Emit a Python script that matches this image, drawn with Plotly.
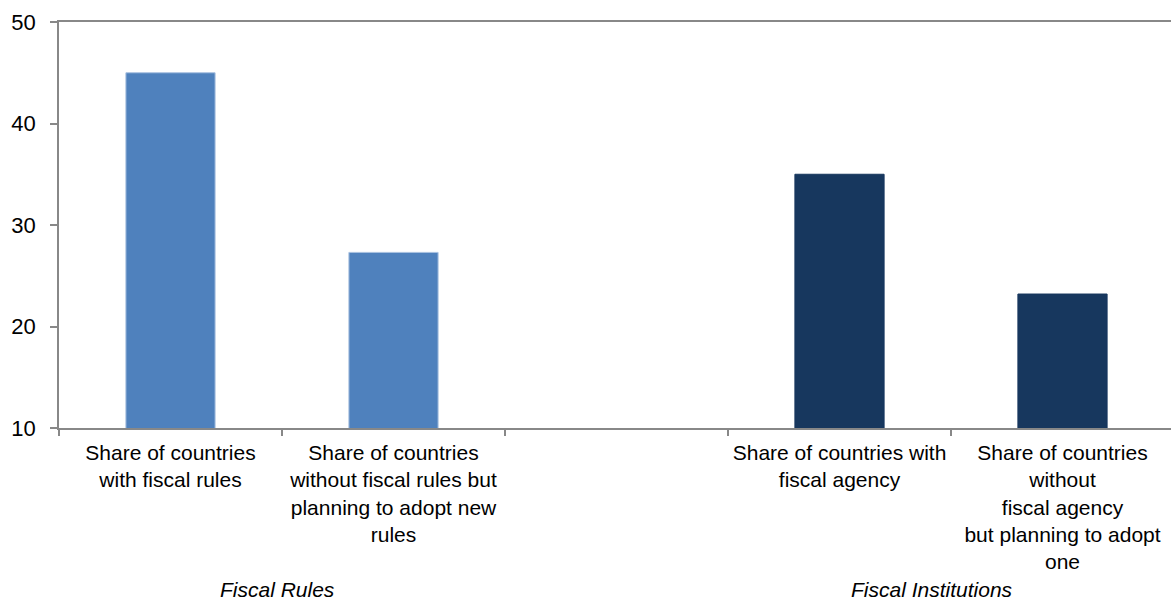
import plotly.graph_objects as go

# Survey shares, by category slot (third slot left empty as a spacer)
categories = [
    "Share of countries<br>with fiscal rules",
    "Share of countries<br>without fiscal rules but<br>planning to adopt new<br>rules",
    " ",
    "Share of countries with<br>fiscal agency",
    "Share of countries<br>without<br>fiscal agency<br>but planning to adopt<br>one",
]
values = [45.0, 27.3, None, 35.0, 23.2]
bar_colors = ["#4F81BD", "#4F81BD", "#4F81BD", "#17375E", "#17375E"]
line_colors = ["#A9C1E0", "#A9C1E0", "#A9C1E0", "#17375E", "#17375E"]

group_labels = ["Fiscal Rules", "Fiscal Institutions"]
group_positions = [0.478, 3.415]

y_ticks = [10, 20, 30, 40, 50]

FONT = "Liberation Sans, Arial, sans-serif"
W, H = 1171, 602
plot_left, plot_top, plot_bottom = 59, 22, 428.5

fig = go.Figure(
    go.Bar(
        x=categories,
        y=values,
        width=0.40,
        marker=dict(color=bar_colors, line=dict(color=line_colors, width=1)),
    )
)

# Group captions sit below the category labels
caption_y = (plot_bottom - 590) / (plot_bottom - plot_top)
for label, pos in zip(group_labels, group_positions):
    fig.add_annotation(
        x=pos, xref="x",
        y=caption_y, yref="paper", yanchor="middle",
        text=f"<i>{label}</i>",
        showarrow=False,
        font=dict(family=FONT, size=21, color="#000000"),
    )

fig.update_layout(
    width=W,
    height=H,
    autosize=False,
    margin=dict(l=plot_left, r=0, t=plot_top, b=H - plot_bottom, pad=0),
    paper_bgcolor="white",
    plot_bgcolor="white",
    showlegend=False,
    font=dict(family=FONT, size=21, color="#000000"),
    xaxis=dict(
        type="category",
        categoryorder="array",
        categoryarray=categories,
        range=[-0.5, -0.5 + (W - plot_left) / 223],
        tickson="boundaries",
        ticks="outside",
        ticklen=6,
        tickwidth=1.5,
        tickcolor="#888888",
        tickangle=0,
        ticklabelstandoff=5,
        automargin=False,
        showline=True,
        linecolor="#888888",
        linewidth=1.5,
        mirror=True,
        showgrid=False,
        tickfont=dict(family=FONT, size=21, color="#000000"),
        fixedrange=True,
    ),
    yaxis=dict(
        range=[10, 50],
        tickvals=y_ticks,
        ticks="outside",
        ticklen=7,
        tickwidth=1.5,
        tickcolor="#888888",
        automargin=False,
        showline=True,
        linecolor="#888888",
        linewidth=1.5,
        showgrid=False,
        zeroline=False,
        ticklabelstandoff=10,
        tickfont=dict(family=FONT, size=22, color="#000000"),
        fixedrange=True,
    ),
)

fig.write_html("out.html", config={"displayModeBar": False})
